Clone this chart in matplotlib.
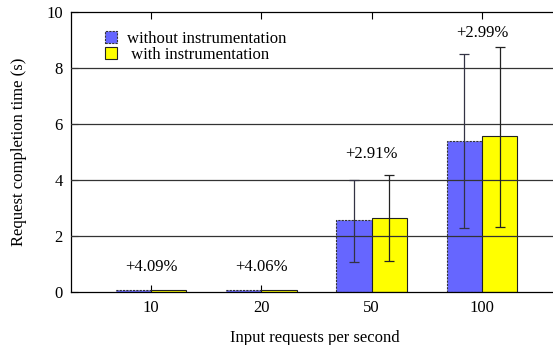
import matplotlib
matplotlib.use("Agg")
import matplotlib.pyplot as plt
import numpy as np

# Data
categories = ["10", "20", "50", "100"]
without_mean = [0.07, 0.07, 2.57, 5.38]
without_low = [0.07, 0.07, 1.08, 2.29]
without_high = [0.07, 0.07, 4.01, 8.49]
with_mean = [0.07, 0.07, 2.63, 5.56]
with_low = [0.07, 0.07, 1.10, 2.33]
with_high = [0.07, 0.07, 4.17, 8.75]
overhead_labels = ["+4.09%", "+4.06%", "+2.91%", "+2.99%"]
label_heights = [0.61, 0.61, 4.65, 8.98]

plt.rcParams['font.family'] = ['Liberation Serif', 'DejaVu Serif']
plt.rcParams['font.size'] = 12

fig = plt.figure(figsize=(5.53, 3.45), dpi=100)
W, H = 553, 345
ax = fig.add_axes([71 / W, 53 / H, 487 / W, 280 / H])

x = np.arange(len(categories))
w = 0.32

err_wo = [np.array(without_mean) - np.array(without_low),
          np.array(without_high) - np.array(without_mean)]
err_w = [np.array(with_mean) - np.array(with_low),
         np.array(with_high) - np.array(with_mean)]

ax.bar(x - w / 2, without_mean, w, color="#6666ff", edgecolor="#333333",
       linewidth=0.8, linestyle=(0, (2, 1)), label="without instrumentation", zorder=2)
ax.bar(x + w / 2, with_mean, w, color="#ffff00", edgecolor="#222222",
       linewidth=0.8, label=" with instrumentation", zorder=2)

big = x >= 2
ax.errorbar((x - w / 2)[big], np.array(without_mean)[big],
            yerr=[e[big] for e in err_wo], fmt="none", ecolor="#333344",
            elinewidth=0.9, capsize=3.5, capthick=0.9, zorder=4)
ax.errorbar((x + w / 2)[big], np.array(with_mean)[big],
            yerr=[e[big] for e in err_w], fmt="none", ecolor="#222222",
            elinewidth=0.9, capsize=3.5, capthick=0.9, zorder=4)

for yv in [2, 4, 6, 8]:
    ax.axhline(yv, color="#333333", linewidth=0.9, zorder=3)

for xi, lab, hy in zip(x, overhead_labels, label_heights):
    ax.text(xi, hy, lab, ha="center", va="bottom", fontsize=12, zorder=5)

ax.set_xlim(-0.725, 3.69)
ax.set_ylim(0, 10)
ax.set_yticks([0, 2, 4, 6, 8, 10])
ax.set_xticks(x)
ax.set_xticklabels(categories)
ax.tick_params(axis="x", direction="in", length=5, top=True, pad=6)
ax.tick_params(axis="y", direction="in", length=5, pad=6)
ax.spines["right"].set_visible(False)
for s in ["left", "bottom", "top"]:
    ax.spines[s].set_linewidth(0.9)

ax.set_xlabel("Input requests per second", labelpad=10)
ax.set_ylabel("Request completion time (s)", labelpad=14)

ax.legend(loc="upper left", bbox_to_anchor=(0.056, 0.957), frameon=False,
          handlelength=0.75, handleheight=0.7, handletextpad=0.6,
          labelspacing=0.0, borderaxespad=0, fontsize=12)

fig.savefig("out.png", dpi=100)
